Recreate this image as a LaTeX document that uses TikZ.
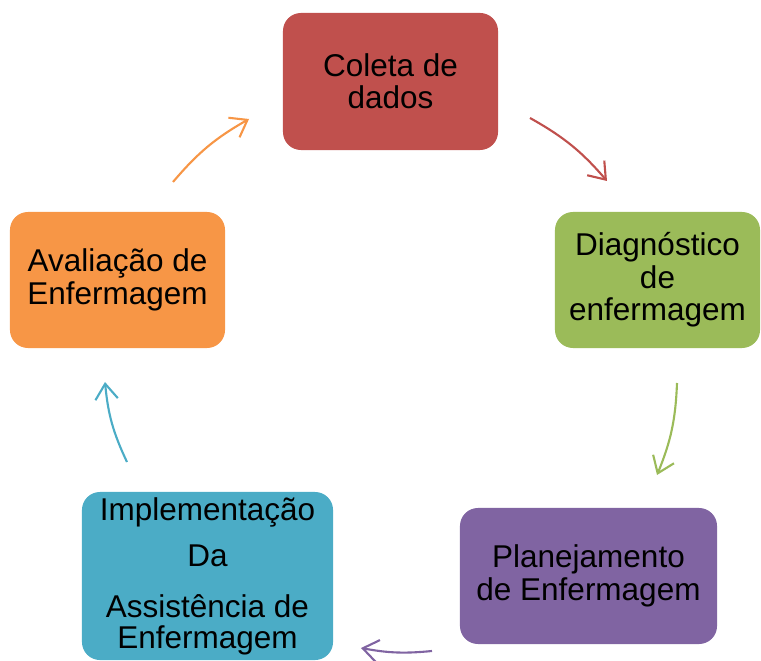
\documentclass[tikz,border=0pt]{standalone}
\usepackage{fontspec}
\setmainfont{Liberation Sans}
\usetikzlibrary{arrows.meta}
\definecolor{cred}{HTML}{C0504D}
\definecolor{cgreen}{HTML}{9BBB59}
\definecolor{cpurple}{HTML}{8064A2}
\definecolor{cteal}{HTML}{4BACC6}
\definecolor{corange}{HTML}{F79646}
\begin{document}
\begin{tikzpicture}[x=0.025cm, y=0.025cm]
\tikzstyle{every node}+=[inner sep=0pt]
\tikzstyle{stage}=[rounded corners=0.45cm, align=center, minimum height=3.4cm,
  font=\fontsize{22.4}{23}\selectfont]
\tikzstyle{cycle}=[line width=1.5pt, -{Straight Barb[length=11pt,width=16pt]}]
\useasboundingbox (0,0) rectangle (761,-661);
\node [stage, fill=cred, minimum width=5.375cm, minimum height=3.425cm] (coleta) at (390.5,-81.5) {Coleta de\\dados};
\node [stage, fill=cgreen, minimum width=5.125cm] (diag) at (657.5,-280) {Diagn\'ostico\\de\\enfermagem};
\node [stage, fill=cpurple, minimum width=6.425cm] (plan) at (588.5,-576) {Planejamento\\de Enfermagem};
\node [stage, fill=cteal, minimum width=6.275cm, minimum height=4.2cm] (impl) at (207.5,-576) {Implementa\c{c}\~ao\\[10pt]Da\\[13pt]Assist\^encia de\\[-1pt]Enfermagem};
\node [stage, fill=corange, minimum width=5.375cm] (aval) at (117.5,-280) {Avalia\c{c}\~ao de\\Enfermagem};
% arrow ends
\coordinate (a1) at (530,-118);
\coordinate (a2) at (607,-181);
\coordinate (b1) at (677,-383);
\coordinate (b2) at (657,-475);
\coordinate (c1) at (432,-651);
\coordinate (c2) at (361,-648);
\coordinate (d1) at (127,-462);
\coordinate (d2) at (105,-382);
\coordinate (e1) at (173,-182);
\coordinate (e2) at (249,-119);
\draw [cycle, cred] (a1) to [bend left=10] (a2);
\draw [cycle, cgreen] (b1) to [bend left=10] (b2);
\draw [cycle, cpurple] (c1) to [bend left=8] (c2);
\draw [cycle, cteal] (d1) to [bend left=10] (d2);
\draw [cycle, corange] (e1) to [bend left=10] (e2);
\end{tikzpicture}
\end{document}
